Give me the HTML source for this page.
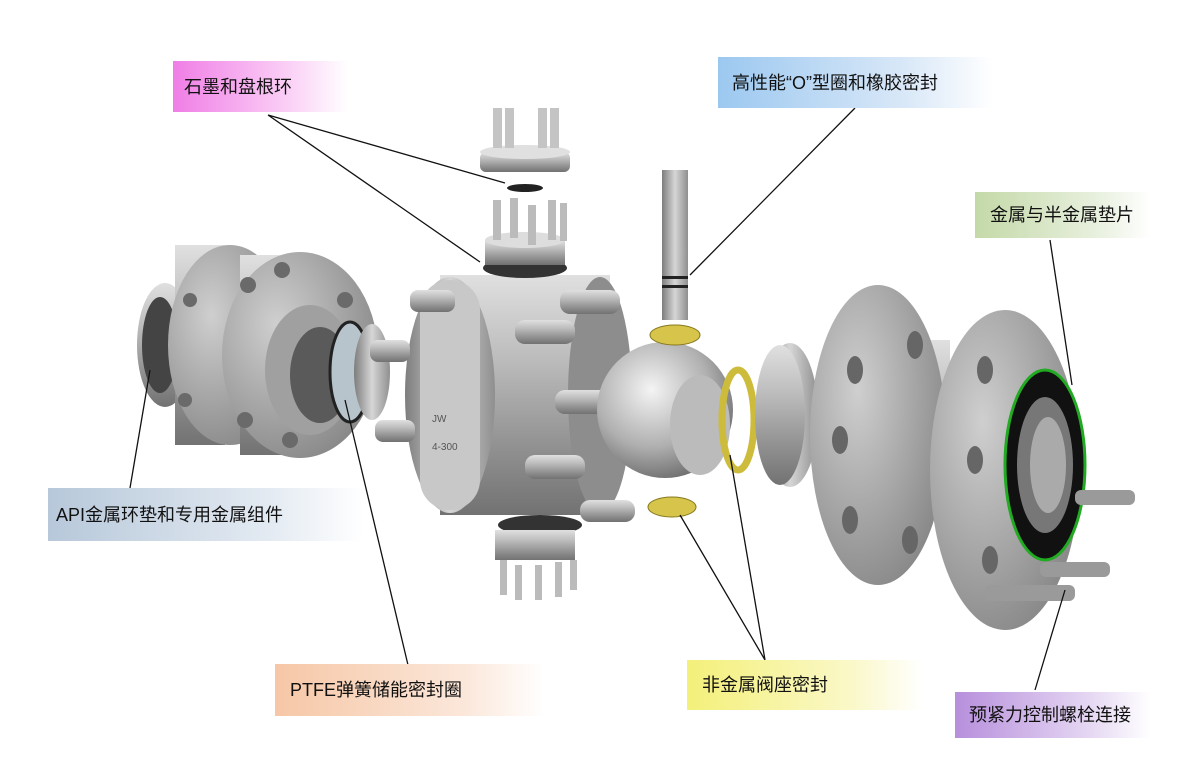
<!DOCTYPE html>
<html><head><meta charset="utf-8"><style>
html,body{margin:0;padding:0;background:#fff;}
#w{position:relative;width:1200px;height:770px;overflow:hidden;font-family:"Liberation Sans","Noto Sans CJK SC",sans-serif;}
.lb{position:absolute;font-size:18px;color:#111;line-height:1;display:flex;align-items:center;box-sizing:border-box;padding-left:11px;}
svg{position:absolute;left:0;top:0;}
</style></head><body><div id="w">
<svg width="1200" height="770" viewBox="0 0 1200 770">
<defs>
<linearGradient id="m" x1="0" y1="0" x2="0" y2="1"><stop offset="0" stop-color="#e0e0e0"/><stop offset=".35" stop-color="#bcbcbc"/><stop offset=".7" stop-color="#939393"/><stop offset="1" stop-color="#727272"/></linearGradient>
<linearGradient id="mh" x1="0" y1="0" x2="1" y2="0"><stop offset="0" stop-color="#7d7d7d"/><stop offset=".5" stop-color="#d6d6d6"/><stop offset="1" stop-color="#8f8f8f"/></linearGradient>
<radialGradient id="ball" cx=".4" cy=".35" r=".7"><stop offset="0" stop-color="#f4f4f4"/><stop offset=".6" stop-color="#b0b0b0"/><stop offset="1" stop-color="#6a6a6a"/></radialGradient>
<radialGradient id="fl" cx=".35" cy=".35" r=".75"><stop offset="0" stop-color="#cfcfcf"/><stop offset="1" stop-color="#858585"/></radialGradient>
</defs>
<ellipse cx="165" cy="345" rx="28" ry="62" fill="url(#m)"/>
<ellipse cx="160" cy="345" rx="18" ry="48" fill="#444"/>
<rect x="175" y="245" width="50" height="200" fill="url(#m)"/>
<ellipse cx="230" cy="345" rx="62" ry="100" fill="url(#fl)"/>
<rect x="240" y="255" width="50" height="200" fill="url(#m)"/>
<ellipse cx="300" cy="355" rx="78" ry="103" fill="url(#fl)"/>
<ellipse cx="310" cy="370" rx="45" ry="65" fill="#a0a0a0"/>
<ellipse cx="320" cy="375" rx="30" ry="48" fill="#5a5a5a"/>
<g fill="#6a6a6a"><circle cx="248" cy="285" r="8"/><circle cx="245" cy="420" r="8"/><circle cx="282" cy="270" r="8"/><circle cx="345" cy="300" r="8"/><circle cx="360" cy="400" r="8"/><circle cx="290" cy="440" r="8"/><circle cx="190" cy="300" r="7"/><circle cx="185" cy="400" r="7"/></g>
<ellipse cx="350" cy="372" rx="20" ry="50" fill="#b8c4cc" stroke="#222" stroke-width="3"/>
<ellipse cx="372" cy="372" rx="18" ry="48" fill="url(#mh)"/>
<rect x="440" y="275" width="170" height="240" fill="url(#m)"/>
<ellipse cx="600" cy="395" rx="32" ry="118" fill="#8d8d8d"/>
<ellipse cx="450" cy="395" rx="45" ry="118" fill="url(#mh)"/>
<rect x="420" y="280" width="60" height="230" rx="30" fill="#c8c8c8"/>
<text x="432" y="422" font-size="10" fill="#555" font-family="Liberation Sans,sans-serif">JW</text>
<text x="432" y="450" font-size="10" fill="#555" font-family="Liberation Sans,sans-serif">4-300</text>
<g fill="url(#m)"><rect x="370" y="340" width="40" height="22" rx="8"/><rect x="375" y="420" width="40" height="22" rx="8"/><rect x="410" y="290" width="45" height="22" rx="8"/><rect x="515" y="320" width="60" height="24" rx="10"/><rect x="525" y="455" width="60" height="24" rx="10"/><rect x="560" y="290" width="60" height="24" rx="10"/><rect x="580" y="500" width="55" height="22" rx="10"/><rect x="555" y="390" width="55" height="24" rx="10"/></g>
<ellipse cx="525" cy="268" rx="42" ry="10" fill="#333"/>
<rect x="485" y="240" width="80" height="25" fill="url(#m)"/>
<ellipse cx="525" cy="240" rx="40" ry="8" fill="#ddd"/>
<g fill="#bbb"><rect x="493" y="200" width="8" height="40"/><rect x="510" y="198" width="8" height="40"/><rect x="528" y="205" width="8" height="40"/><rect x="548" y="200" width="8" height="40"/><rect x="560" y="203" width="7" height="38"/></g>
<ellipse cx="525" cy="188" rx="18" ry="4" fill="#222"/>
<rect x="480" y="152" width="90" height="20" rx="6" fill="url(#m)"/>
<ellipse cx="525" cy="152" rx="45" ry="7" fill="#e0e0e0"/>
<g fill="#c4c4c4"><rect x="493" y="108" width="9" height="40"/><rect x="505" y="108" width="9" height="40"/><rect x="538" y="108" width="9" height="40"/><rect x="550" y="108" width="9" height="40"/></g>
<ellipse cx="540" cy="525" rx="42" ry="10" fill="#333"/>
<rect x="495" y="530" width="80" height="30" fill="url(#m)"/>
<g fill="#bbb"><rect x="500" y="560" width="7" height="35"/><rect x="515" y="565" width="7" height="35"/><rect x="535" y="565" width="7" height="35"/><rect x="555" y="562" width="7" height="35"/><rect x="570" y="560" width="7" height="30"/></g>
<circle cx="665" cy="410" r="68" fill="url(#ball)"/>
<ellipse cx="700" cy="425" rx="30" ry="50" fill="#bbb"/>
<rect x="662" y="170" width="26" height="150" fill="url(#mh)"/>
<rect x="662" y="276" width="26" height="3" fill="#222"/><rect x="662" y="285" width="26" height="3" fill="#222"/>
<ellipse cx="675" cy="335" rx="25" ry="10" fill="#d6c54a" stroke="#887a20"/>
<ellipse cx="672" cy="507" rx="24" ry="10" fill="#d6c54a" stroke="#887a20"/>
<ellipse cx="738" cy="420" rx="16" ry="50" fill="none" stroke="#cdbb3c" stroke-width="7"/>
<ellipse cx="790" cy="415" rx="28" ry="72" fill="url(#mh)"/>
<ellipse cx="780" cy="415" rx="25" ry="70" fill="url(#m)"/>
<rect x="870" y="340" width="80" height="180" fill="url(#m)"/>
<ellipse cx="878" cy="435" rx="68" ry="150" fill="url(#fl)"/>
<g fill="#666"><ellipse cx="855" cy="370" rx="8" ry="14"/><ellipse cx="840" cy="440" rx="8" ry="14"/><ellipse cx="850" cy="520" rx="8" ry="14"/><ellipse cx="915" cy="345" rx="8" ry="14"/><ellipse cx="910" cy="540" rx="8" ry="14"/></g>
<ellipse cx="1005" cy="470" rx="75" ry="160" fill="url(#fl)"/>
<ellipse cx="1045" cy="465" rx="40" ry="95" fill="#111" stroke="#2a2" stroke-width="3"/>
<ellipse cx="1045" cy="465" rx="28" ry="68" fill="#777"/>
<ellipse cx="1048" cy="465" rx="18" ry="48" fill="#aaa"/>
<g fill="#666"><ellipse cx="985" cy="370" rx="8" ry="14"/><ellipse cx="975" cy="460" rx="8" ry="14"/><ellipse cx="990" cy="560" rx="8" ry="14"/></g>
<g fill="#9a9a9a"><rect x="1075" y="490" width="60" height="15" rx="6"/><rect x="1040" y="562" width="70" height="15" rx="6"/><rect x="985" y="585" width="90" height="16" rx="6"/></g>
<g stroke="#111" stroke-width="1.3" fill="none">
<path d="M268 115 L480 262 M268 115 L505 183"/>
<path d="M855 108 L690 275"/>
<path d="M1050 240 L1072 385"/>
<path d="M130 488 L150 370"/>
<path d="M408 665 L345 400"/>
<path d="M765 660 L680 515 M765 660 L730 455"/>
<path d="M1035 690 L1065 590"/>
</g>
</svg>
<div class="lb" style="left:173px;top:61px;width:175px;height:51px;background:linear-gradient(90deg,#f07ee6,#fbd5f7 70%,#fff);">石墨和盘根环</div>
<div class="lb" style="left:718px;top:57px;width:275px;height:51px;background:linear-gradient(90deg,#9cc8f0,#dbe9f8 70%,#fff);padding-left:14px;">高性能“O”型圈和橡胶密封</div>
<div class="lb" style="left:975px;top:192px;width:175px;height:46px;background:linear-gradient(90deg,#c4d9a8,#e8f0de 70%,#fff);padding-left:15px;">金属与半金属垫片</div>
<div class="lb" style="left:48px;top:488px;width:315px;height:53px;background:linear-gradient(90deg,#b7c8da,#e3eaf2 70%,#fff);padding-left:8px;">API金属环垫和专用金属组件</div>
<div class="lb" style="left:275px;top:664px;width:270px;height:52px;background:linear-gradient(90deg,#f6c7a6,#fbe7da 70%,#fff);padding-left:15px;">PTFE弹簧储能密封圈</div>
<div class="lb" style="left:687px;top:660px;width:235px;height:50px;background:linear-gradient(90deg,#f4f07a,#faf8c8 70%,#fff);padding-left:15px;">非金属阀座密封</div>
<div class="lb" style="left:955px;top:692px;width:195px;height:46px;background:linear-gradient(90deg,#b78fdc,#e6d8f3 70%,#fff);padding-left:14px;">预紧力控制螺栓连接</div>
</div></body></html>
